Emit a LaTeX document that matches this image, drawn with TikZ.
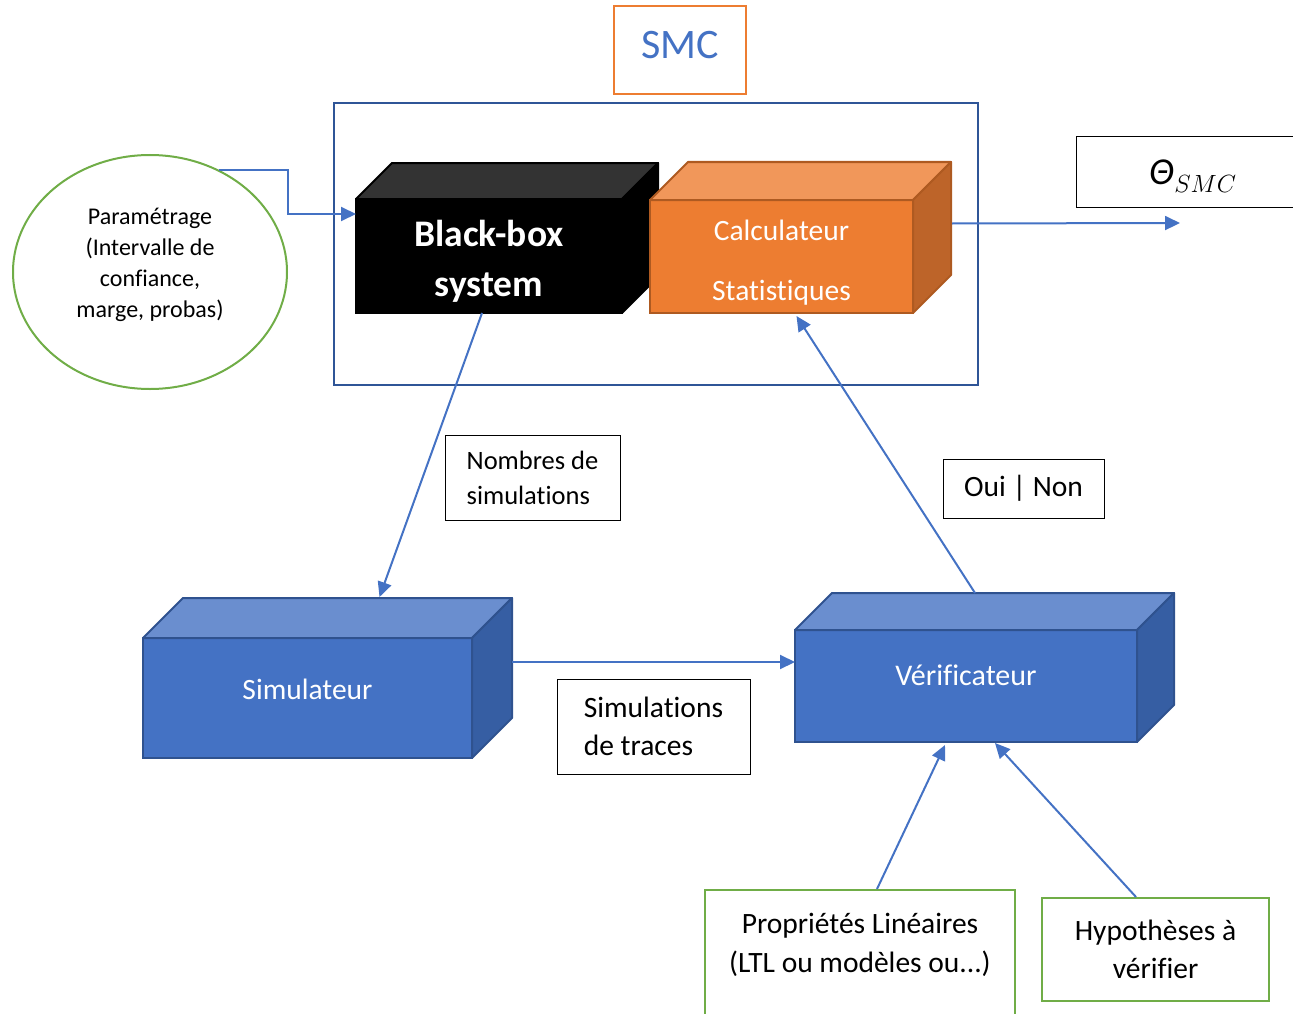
\documentclass[tikz,border=0pt]{standalone}
\usepackage{fontspec}
\setmainfont{Carlito}[Ligatures=NoCommon]
\usetikzlibrary{arrows.meta,calc,shapes.geometric}

\definecolor{smcblue}{HTML}{4472C4}
\definecolor{cubetop}{HTML}{6A8ECF}
\definecolor{cubeside}{HTML}{365EA3}
\definecolor{cubeedge}{HTML}{2F528F}
\definecolor{calcorange}{HTML}{ED7D31}
\definecolor{calctop}{HTML}{F1975A}
\definecolor{calcside}{HTML}{BD6429}
\definecolor{calcedge}{HTML}{AE5A21}
\definecolor{bbtop}{HTML}{333333}
\definecolor{paramgreen}{HTML}{70AD47}
\definecolor{frameblue}{HTML}{2F5597}

% top and right faces of a box drawn as a cube
\newcommand{\cubedepth}[5]{% #1 node, #2 depth, #3 top fill, #4 side fill, #5 edge
  \filldraw[fill=#3, draw=#5, line width=2pt, line join=round]
    (#1.north west) -- ++(#2,-#2) -- ($(#1.north east)+(#2,-#2)$) -- (#1.north east) -- cycle;
  \filldraw[fill=#4, draw=#5, line width=2pt, line join=round]
    (#1.north east) -- ++(#2,-#2) -- ($(#1.south east)+(#2,-#2)$) -- (#1.south east) -- cycle;
}

\begin{document}
\begin{tikzpicture}[
            x = 1pt, y = -1pt, % one unit = one pixel of the sketch
            > = {Triangle[length=15pt,width=14pt]}, % arrow head style
            semithick % line style
        ]

        \tikzstyle{cube}=[
            draw,
            line width = 2pt,
            outer sep = 0pt,
            inner sep = 0pt
        ]
        \tikzstyle{cubetext}=[text = white, align = center, inner sep = 0pt]
        \tikzstyle{tag}=[draw = black, line width = 1pt, inner sep = 0pt]
        \tikzstyle{greenbox}=[draw = paramgreen, line width = 2pt, inner sep = 0pt, align = center]
        \tikzstyle{flow}=[->, draw = smcblue, line width = 2pt]

        \useasboundingbox (0,0) rectangle (1293,1014);

        \node[draw = calcorange, line width = 2pt, minimum width = 132, minimum height = 88,
              text = smcblue, font = \fontsize{42}{50}\selectfont] (smc) at (680,50)
              {\raisebox{5pt}[\height][\depth]{SMC}};
        \node[draw = frameblue, line width = 2pt, minimum width = 644, minimum height = 282] (frame) at (656,244) {};

        % cubes
        \node[cube, fill = black, draw = black, minimum width = 266, minimum height = 114] (bb) at (489,256) {};
        \cubedepth{bb}{36}{bbtop}{black}{black}
        \node[cubetext, font = \bfseries\fontsize{37.5}{50}\selectfont] (bbtext) at ($(bb)+(0,5)$) {Black-box\\system};

        \node[cube, fill = calcorange, draw = calcedge, minimum width = 263, minimum height = 113] (calc) at (781.5,256.5) {};
        \cubedepth{calc}{38}{calctop}{calcside}{calcedge}
        \node[cubetext, font = \fontsize{29.5}{60}\selectfont] (calctext) at ($(calc)+(0,6)$) {Calculateur\\Statistiques};

        \node[cube, fill = smcblue, draw = cubeedge, minimum width = 329, minimum height = 120] (sim) at (307.5,698) {};
        \cubedepth{sim}{40}{cubetop}{cubeside}{cubeedge}
        \node[cubetext, font = \fontsize{29.5}{35}\selectfont] (simtext) at ($(sim)+(0,-9)$) {Simulateur};

        \node[cube, fill = smcblue, draw = cubeedge, minimum width = 342, minimum height = 112] (verif) at (966,686) {};
        \cubedepth{verif}{37}{cubetop}{cubeside}{cubeedge}
        \node[cubetext, font = \fontsize{30}{35}\selectfont] (veriftext) at ($(verif)+(0,-11)$) {Vérificateur};

        % inputs and labels
        \node[ellipse, draw = paramgreen, line width = 2pt, minimum width = 274, minimum height = 234,
              inner sep = 0pt] (param) at (150,272) {};
        \node[align = center, inner sep = 0pt, font = \fontsize{24}{31}\selectfont] (paramtext) at ($(param)+(0,-7)$)
              {Paramétrage\\(Intervalle de\\confiance,\\marge, probas)};

        \node[tag, minimum width = 234, minimum height = 70, font = \fontsize{38}{44}\selectfont] (theta) at (1193,172)
              {\raisebox{-4pt}[\height][\depth]{$\mbox{\itshape Θ}_{SMC}$}};
        \coordinate (out) at (1180,223);

        \node[tag, minimum width = 175, minimum height = 85, align = left,
              font = \fontsize{26.5}{35}\selectfont] (nbsim) at (532.5,477.5) {Nombres de\\simulations};
        \node[tag, minimum width = 161, minimum height = 59,
              font = \fontsize{29.5}{32}\selectfont] (ouinon) at (1023.5,488.5) {Oui | Non};
        \node[tag, minimum width = 193, minimum height = 95, align = left,
              font = \fontsize{29.5}{38}\selectfont] (traces) at (653.5,726.5) {Simulations\\de traces};

        \node[greenbox, minimum width = 310, minimum height = 156,
              font = \fontsize{29.5}{39}\selectfont] (prop) at (860,968)
              {Propriétés Linéaires\\(LTL ou modèles ou...)\\\strut};
        \node[greenbox, minimum width = 227, minimum height = 103,
              font = \fontsize{29.5}{38}\selectfont] (hyp) at (1155.5,949.5) {Hypothèses à\\vérifier};

        % flows
        \draw[flow] (param.56) -- ++(69,0) |- ($(bb.west)+(0,-42)$);
        \draw[flow] ($(bb.south)+(-7,0)$) -- ($(sim.north)+(72,-41)$);
        \draw[flow] ($(sim.east)+(40,-36)$) -- ($(verif.west)+(0,-24)$);
        \draw[flow] ($(verif.north)+(9,-37)$) -- ($(calc.south)+(15,3)$);
        \draw[flow] ($(calc.east)+(39,-33)$) -- (out);
        \draw[flow] ($(prop.north)+(17,0)$) -- ($(verif.south)+(-21,3)$);
        \draw[flow] ($(hyp.north)+(-19.5,0)$) -- ($(verif.south)+(29,1)$);

    \end{tikzpicture}
\end{document}
